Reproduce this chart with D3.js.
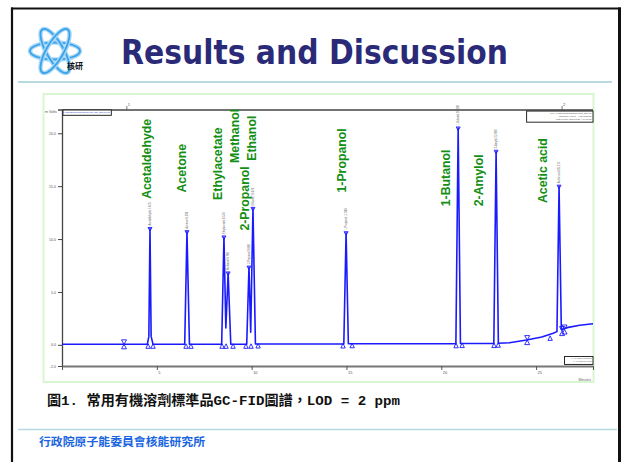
<!DOCTYPE html>
<html><head><meta charset="utf-8">
<script src="https://cdn.jsdelivr.net/npm/d3@7/dist/d3.min.js"></script>
<style>html,body{margin:0;padding:0;background:#fff;overflow:hidden}svg{display:block}</style>
</head><body>
<svg id="c" width="621" height="462"></svg>
<script>
// ---------- data ----------
const compounds = ["Acetaldehyde","Acetone","Ethylacetate","Methanol","2-Propanol","Ethanol","1-Propanol","1-Butanol","2-Amylol","Acetic acid"];
const retentionTimes = [4.64, 6.59, 8.54, 8.76, 9.86, 10.07, 14.98, 20.89, 22.89, 26.21];
const peakHeights = [11.0, 10.7, 10.2, 6.8, 7.35, 12.9, 10.6, 20.5, 18.3, 15.0];
const labelTimes = [4.47, 6.32, 8.21, 9.11, 9.63, 10.0, 14.79, 20.26, 22.0, 25.37];
const labelSignals = [13.8, 14.4, 13.7, 17.2, 10.8, 17.4, 14.4, 13.1, 13.1, 13.4];

const traceTime = [0, 3.2, 3.3, 4.5, 4.58, 4.64, 4.70, 4.80, 6.47, 6.59, 6.72, 8.42, 8.54, 8.64, 8.76, 8.90, 9.74, 9.86, 9.95, 10.07, 10.20, 14.86, 14.98, 15.10, 20.77, 20.89, 21.01, 22.77, 22.89, 23.01, 23.6, 24.5, 25.3, 25.9, 26.1, 26.21, 26.33, 26.7, 27.3, 28.0];
const traceSignal = [0.05, 0.05, 0.05, 0.05, 0.8, 11.0, 0.8, 0.05, 0.05, 10.7, 0.05, 0.05, 10.2, 1.6, 6.8, 0.05, 0.05, 7.35, 1.2, 12.9, 0.08, 0.08, 10.6, 0.1, 0.1, 20.5, 0.12, 0.12, 18.3, 0.15, 0.2, 0.45, 0.75, 1.1, 1.25, 15.0, 1.45, 1.65, 1.85, 2.0];

const markerTimes = [3.27, 4.54, 4.80, 6.54, 6.80, 8.44, 8.65, 9.02, 9.70, 9.97, 10.34, 14.82, 15.30, 20.78, 21.10, 22.78, 23.00, 24.53, 25.74, 26.37, 26.50];
const markerSignals = [0.05, 0.05, 0.05, 0.05, 0.05, 0.05, 0.05, 0.05, 0.05, 0.05, 0.08, 0.08, 0.1, 0.1, 0.12, 0.12, 0.15, 0.45, 0.8, 1.3, 1.45];
const markerKinds = ["hour","up","up","up","up","up","up","up","up","up","up","up","up","up","up","up","up","hour","up","hour","hour"];

const yTicks = [-2, 0, 5, 10, 15, 20];
const yTickLabels = ["-2.0", "0.0", "5.0", "10.0", "15.0", "20.0"];
const xTicks = [0, 5, 10, 15, 20, 25, 28];
const xTickLabels = ["", "5", "10", "15", "20", "25", ""];
const eventTimes = [3.42, 26.37];
const eventLabels = ["1", "2"];

const titleText = "Results and Discussion";
const captionText = "圖1. 常用有機溶劑標準品GC-FID圖譜，LOD = 2 ppm";
const footerText = "行政院原子能委員會核能研究所";

// ---------- drawing ----------
const svg = d3.select("#c");
svg.append("rect").attr("width", 621).attr("height", 462).attr("fill", "#fff");

// slide frame
svg.append("line").attr("x1", 11).attr("x2", 621).attr("y1", 8.5).attr("y2", 8.5).attr("stroke", "#111").attr("stroke-width", 2);
svg.append("line").attr("x1", 12).attr("x2", 12).attr("y1", 7.5).attr("y2", 462).attr("stroke", "#111").attr("stroke-width", 2.2);
svg.append("line").attr("x1", 619.5).attr("x2", 619.5).attr("y1", 7.5).attr("y2", 462).attr("stroke", "#111").attr("stroke-width", 3);

// logo
const logo = svg.append("g").attr("transform", "translate(55,51)");
[0, 60, -60].forEach(a => {
  logo.append("ellipse").attr("rx", 25).attr("ry", 8.5).attr("transform", `rotate(${a})`)
    .attr("fill", "none").attr("stroke", "#a8d8f7").attr("stroke-width", 4.5);
  logo.append("ellipse").attr("rx", 25).attr("ry", 8.5).attr("transform", `rotate(${a})`)
    .attr("fill", "none").attr("stroke", "#3aa2ea").attr("stroke-width", 1.8);
});
logo.append("text").attr("x", 12).attr("y", 18).attr("font-family", "Noto Sans CJK TC").attr("font-weight", 700)
  .attr("font-size", 8).attr("fill", "#111").text("核研");

// title
svg.append("text").attr("x", 121).attr("y", 64).attr("font-family", "DejaVu Sans, Verdana, sans-serif")
  .attr("font-weight", 700).attr("font-size", 34).attr("fill", "#2b2a78")
  .attr("textLength", 387).attr("lengthAdjust", "spacingAndGlyphs").text(titleText);

// separator lines
svg.append("line").attr("x1", 18).attr("x2", 612).attr("y1", 82).attr("y2", 82).attr("stroke", "#b7dbe0").attr("stroke-width", 2);
svg.append("line").attr("x1", 18).attr("x2", 617).attr("y1", 429.5).attr("y2", 429.5).attr("stroke", "#b7dbe0").attr("stroke-width", 1.5);

// chart picture frame
svg.append("rect").attr("x", 43.5).attr("y", 94).attr("width", 550).attr("height", 288)
  .attr("fill", "#fff").attr("stroke", "#d8f7d0").attr("stroke-width", 2);

// scales
const x = d3.scaleLinear().domain([0, 28]).range([62, 593]);
const y = d3.scaleLinear().domain([-2, 22.2]).range([366, 110]);

// top line
svg.append("line").attr("x1", 58).attr("x2", x(28)).attr("y1", 110).attr("y2", 110).attr("stroke", "#444").attr("stroke-width", 1.3);
eventTimes.forEach((t, i) => {
  svg.append("line").attr("x1", x(t)).attr("x2", x(t)).attr("y1", 110).attr("y2", 106).attr("stroke", "#555").attr("stroke-width", 0.8);
  svg.append("text").attr("x", x(t) + 1).attr("y", 106).attr("font-size", 4).attr("font-family", "Liberation Sans").attr("fill", "#555").text(eventLabels[i]);
});

// y axis
const ya = svg.append("g").attr("transform", "translate(62,0)")
  .call(d3.axisLeft(y).tickValues(yTicks).tickFormat((d, i) => yTickLabels[i]).tickSize(4).tickSizeOuter(0).tickPadding(2));
ya.select(".domain").attr("stroke", "#444").attr("stroke-width", 1.3);
ya.selectAll(".tick line").attr("stroke", "#444");
ya.selectAll(".tick text").attr("font-size", 3.6).attr("font-family", "Liberation Sans").attr("fill", "#555");
svg.append("text").attr("x", 45).attr("y", 113).attr("font-size", 3.6).attr("font-family", "Liberation Sans").attr("fill", "#555").text("m Volts");

// x axis
const xa = svg.append("g").attr("transform", "translate(0,366)")
  .call(d3.axisBottom(x).tickValues(xTicks).tickFormat((d, i) => xTickLabels[i]).tickSize(4).tickSizeOuter(0).tickPadding(1));
xa.select(".domain").attr("stroke", "#777").attr("stroke-width", 2);
xa.selectAll(".tick line").attr("stroke", "#555");
xa.selectAll(".tick text").attr("font-size", 4).attr("font-family", "Liberation Sans").attr("fill", "#555").attr("text-anchor", "start").attr("dx", 1);
svg.append("text").attr("x", 591).attr("y", 381).attr("text-anchor", "end").attr("font-size", 3.6).attr("font-family", "Liberation Sans").attr("fill", "#666").text("Minutes");

// info boxes
const boxes = [
  {x0: 0.05, x1: 2.6, s0: 22.2, s1: 21.7, lines: ["C:\\Star\\Data\\GCFID\\solvent_std_2ppm.run"], color: "#3344cc"},
  {x0: 24.5, x1: 28, s0: 22.1, s1: 21.05, lines: ["File: c:\\star\\data\\gcfid\\solvent_std.run", "Channel: Front = FID  Results", "Last recalc: 2007/5/21 AM 11:05"], color: "#555"},
  {x0: 26.5, x1: 28, s0: -1.1, s1: -1.85, lines: ["X:  1.7789 Minutes", "Y:  0.0038 mVolts"], color: "#555"}
];
boxes.forEach(b => {
  svg.append("rect").attr("x", x(b.x0)).attr("y", y(b.s0)).attr("width", x(b.x1) - x(b.x0)).attr("height", y(b.s1) - y(b.s0))
    .attr("fill", "#fff").attr("stroke", "#111").attr("stroke-width", 0.9);
  b.lines.forEach((l, i) => {
    svg.append("text").attr("x", x(b.x1) - 1.5).attr("y", y(b.s0) + 3 + i * 2.9).attr("text-anchor", "end")
      .attr("font-size", 2.5).attr("font-family", "Liberation Sans").attr("fill", b.color).text(l);
  });
});

// trace
const trace = traceTime.map((t, i) => [t, traceSignal[i]]);
svg.append("path").datum(trace)
  .attr("d", d3.line().x(d => x(d[0])).y(d => y(d[1])))
  .attr("fill", "none").attr("stroke", "#1a1aff").attr("stroke-width", 1.6).attr("stroke-linejoin", "round");

// baseline markers
const mk = svg.append("g").attr("fill", "none").attr("stroke", "#1a1aff").attr("stroke-width", 0.9);
markerTimes.forEach((t, i) => {
  const cx = x(t), cy = y(markerSignals[i]);
  if (markerKinds[i] === "hour") {
    mk.append("path").attr("d", `M${cx - 2.5},${cy - 4.5}L${cx + 2.5},${cy - 4.5}L${cx},${cy}Z`);
    mk.append("path").attr("d", `M${cx - 2.5},${cy + 4.5}L${cx + 2.5},${cy + 4.5}L${cx},${cy}Z`);
  } else {
    mk.append("path").attr("d", `M${cx},${cy - 0.5}L${cx + 2.2},${cy + 4}L${cx - 2.2},${cy + 4}Z`);
  }
});

// peak apex markers and small peak annotations
compounds.forEach((c, i) => {
  const px = x(retentionTimes[i]), py = y(peakHeights[i]);
  mk.append("path").attr("d", `M${px - 2},${py - 1}L${px + 2},${py - 1}L${px},${py + 2.5}Z`);
  svg.append("text").attr("transform", `translate(${px + 0.8},${py - 3}) rotate(-90)`)
    .attr("font-size", 2.6).attr("font-family", "Liberation Sans").attr("fill", "#666")
    .text(`${c} ${retentionTimes[i].toFixed(3)}`);
});

// compound labels
compounds.forEach((c, i) => {
  svg.append("text").attr("transform", `translate(${x(labelTimes[i])},${y(labelSignals[i])}) rotate(-90)`)
    .attr("dominant-baseline", "central")
    .attr("font-family", "Liberation Sans, Arial, sans-serif").attr("font-weight", 700).attr("font-size", 12.3)
    .attr("fill", "#138f13").text(c);
});

// caption
svg.append("text").attr("x", 47).attr("y", 405).attr("font-family", "Liberation Mono, Noto Sans CJK TC")
  .attr("font-weight", 700).attr("font-size", 13.5).attr("fill", "#111")
  .attr("textLength", 353).attr("lengthAdjust", "spacingAndGlyphs").text(captionText);

// footer
svg.append("text").attr("x", 39).attr("y", 446).attr("font-family", "Noto Sans CJK TC")
  .attr("font-weight", 700).attr("font-size", 11).attr("fill", "#1a66e0")
  .attr("textLength", 166).attr("lengthAdjust", "spacingAndGlyphs").text(footerText);
</script>
</body></html>
